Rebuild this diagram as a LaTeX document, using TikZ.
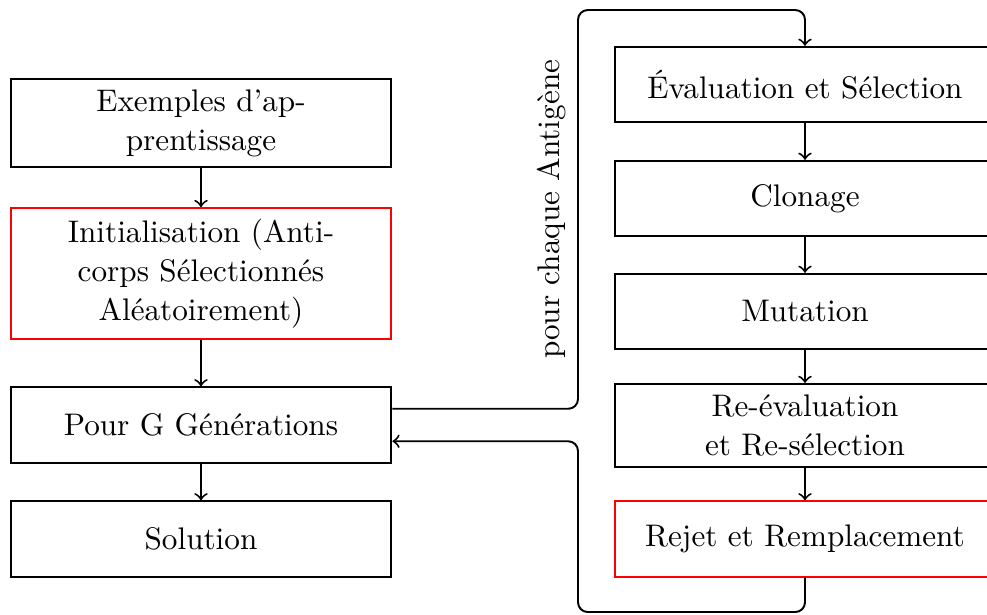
\documentclass[tikz,border=0pt]{standalone}
\begin{document}
\begin{tikzpicture}[x=0.3077pt,y=-0.3077pt,
  every node/.style={font=\fontsize{9.6}{12}\selectfont},
  box/.style={draw, semithick, rectangle, text width=3.6cm, align=center,
              minimum width=117.2pt, minimum height=23.2pt},
  redbox/.style={box, draw=red},
  flow/.style={semithick, ->},
  loopline/.style={semithick, ->, rounded corners=3pt}]
\useasboundingbox (0,0) rectangle (987,614);

% main column
\node[box]    (ex)   at (201,123)   {Exemples d'ap\-pren\-tis\-sage};
\node[redbox] (init) at (201,273.5) {Initialisation (Anti\-corps Sélectionnés Aléatoirement)};
\node[box]    (pour) at (201,425)   {Pour G Générations};
\node[box]    (sol)  at (201,539)   {Solution};

% inner loop
\node[box]    (eval)  at (805,84.5)  {Évaluation et Sélection};
\node[box]    (clon)  at (805,198.5) {Clonage};
\node[box]    (mut)   at (805,311.5) {Mutation};
\node[box]    (reev)  at (805,425.5) {Re-évaluation et Re-sélection};
\node[redbox] (rejet) at (805,539)   {Rejet et Remplacement};

\draw[flow] (ex) -- (init);
\draw[flow] (init) -- (pour);
\draw[flow] (pour) -- (sol);
\draw[flow] (eval) -- (clon);
\draw[flow] (clon) -- (mut);
\draw[flow] (mut) -- (reev);
\draw[flow] (reev) -- (rejet);

\coordinate (out)   at ([yshift=5pt]pour.east);
\coordinate (in)    at ([yshift=-5pt]pour.east);
\coordinate (upper) at (578,10);
\coordinate (lower) at (578,612);

\draw[loopline] (out) -- (out -| upper)
  -- node[midway, sloped, above] {pour chaque Antigène} (upper) -| (eval.north);
\draw[loopline] (rejet.south) |- (lower) -- (lower |- in) -- (in);
\end{tikzpicture}
\end{document}
